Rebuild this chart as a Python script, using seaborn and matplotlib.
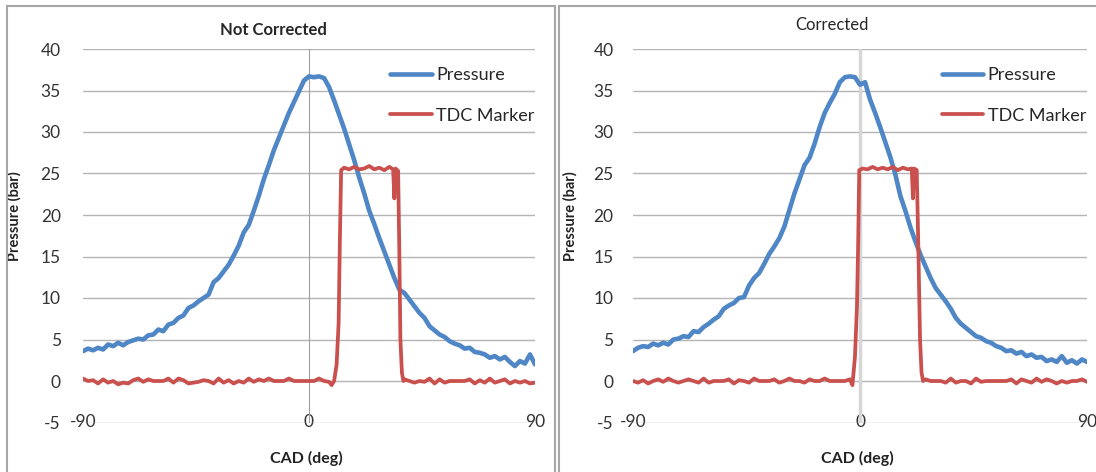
import numpy as np
import seaborn as sns
import matplotlib.pyplot as plt
from matplotlib.patches import Rectangle

# crank angle (deg), pressure sampled every 2 deg
cad = list(range(-90, 91, 2))

# pressure (bar) - not corrected
pressure_nc = [3.6, 3.9, 3.7, 4.0, 3.8, 4.4, 4.2, 4.6, 4.3, 4.7,
               4.9, 5.1, 5.0, 5.5, 5.6, 6.2, 6.0, 6.8, 7.0, 7.6,
               7.9, 8.8, 9.1, 9.6, 10.0, 10.4, 11.9, 12.4, 13.2, 14.0,
               15.1, 16.3, 17.9, 18.8, 20.5, 22.3, 24.3, 26.0, 27.8, 29.3,
               30.8, 32.3, 33.6, 34.9, 36.2, 36.7, 36.6, 36.7, 36.5, 35.4,
               33.8, 32.1, 30.4, 28.5, 26.6, 24.5, 22.6, 20.5, 18.9, 17.2,
               15.6, 14.0, 12.4, 11.0, 10.6, 9.8, 9.0, 8.2, 7.6, 6.6,
               6.1, 5.6, 5.3, 4.8, 4.5, 4.3, 3.9, 4.0, 3.5, 3.4,
               3.2, 2.8, 3.0, 2.6, 2.9, 2.3, 1.8, 2.4, 2.1, 3.2,
               2.0]

# pressure (bar) - corrected
pressure_c = [3.6, 4.0, 4.2, 4.1, 4.5, 4.3, 4.6, 4.4, 5.0, 5.1,
              5.4, 5.3, 6.0, 5.9, 6.5, 6.9, 7.4, 7.8, 8.7, 9.1,
              9.4, 10.0, 10.1, 11.5, 12.4, 13.0, 14.1, 15.3, 16.2, 17.2,
              18.6, 20.6, 22.6, 24.3, 26.0, 26.9, 28.6, 30.6, 32.3, 33.5,
              34.6, 36.0, 36.6, 36.7, 36.6, 35.7, 36.0, 33.9, 32.3, 30.6,
              28.8, 27.0, 24.9, 22.3, 20.5, 18.5, 16.8, 15.2, 13.8, 12.4,
              11.2, 10.4, 9.6, 8.7, 7.6, 6.9, 6.4, 5.9, 5.4, 5.2,
              4.8, 4.6, 4.2, 4.0, 3.6, 3.7, 3.3, 3.5, 3.0, 3.2,
              2.8, 2.9, 2.4, 2.6, 2.3, 3.0, 2.2, 2.5, 2.1, 2.6,
              2.3]

# TDC marker - not corrected
tdc_nc_x = list(range(-90, 9, 2)) + [9, 10, 11, 11.8, 12.3, 12.8, 14, 16, 18, 20, 22, 24, 26, 28,
                                     30, 32, 33.5, 34, 34.5, 35.5, 36, 36.4, 37, 37.6, 38] \
    + list(range(40, 91, 2))
tdc_nc = [0.3, 0.0, 0.1, -0.3, 0.2, -0.2, 0.0, -0.4, -0.2, -0.3,
          0.1, 0.3, -0.1, 0.2, 0.0, 0.0, 0.0, 0.3, -0.2, 0.3,
          0.1, -0.3, -0.2, -0.1, 0.1, 0.0, -0.3, 0.3, -0.2, 0.1,
          -0.3, 0.0, -0.2, 0.3, -0.1, 0.2, 0.0, 0.3, 0.0, 0.0,
          0.0, 0.3, 0.0, 0.0, 0.0, 0.0, 0.0, 0.3, 0.0, -0.1,
          -0.5, 0.0, 2.0, 7.0, 17.0, 25.4, 25.7, 25.5, 25.8, 25.5, 25.6, 25.9, 25.5, 25.7,
          25.4, 25.8, 25.5, 22.0, 25.6, 25.3, 15.0, 5.0, 1.0, 0.0, 0.2,
          0.0, -0.2, 0.0, -0.1, 0.3, -0.3, 0.2, -0.2, 0.0, 0.0,
          0.0, 0.0, 0.2, -0.3, 0.1, -0.2, 0.3, -0.2, 0.0, 0.2,
          -0.3, 0.0, -0.2, 0.0, -0.3, -0.2]

# TDC marker - corrected
tdc_c_x = list(range(-90, -3, 2)) + [-3, -2, -1.2, -0.7, -0.3, 1, 3, 5, 7, 9, 11, 13, 15, 17, 19,
                                     20.5, 21, 21.5, 22.5, 23.2, 23.8, 24.4, 25] \
    + list(range(26, 91, 2))
tdc_c = [0.0, -0.2, 0.1, -0.3, 0.0, 0.2, -0.1, 0.3, 0.0, -0.2,
         0.0, 0.2, 0.0, -0.2, 0.3, -0.2, 0.0, 0.0, 0.0, 0.2,
         -0.3, 0.1, 0.0, -0.2, 0.3, 0.0, 0.0, 0.0, 0.2, -0.2,
         0.0, 0.3, 0.0, 0.0, -0.2, 0.2, 0.0, 0.0, 0.3, 0.0,
         0.0, 0.0, 0.0, 0.2,
         -0.5, 2.9, 9.0, 17.0, 25.4, 25.6, 25.5, 25.8, 25.5, 25.7, 25.5, 25.8, 25.4, 25.7, 25.5,
         25.6, 22.0, 25.6, 25.4, 15.0, 5.0, 1.0, 0.0,
         0.2, 0.0, 0.0, 0.0, -0.2, 0.3, -0.2, 0.0, 0.0, -0.3,
         0.3, -0.1, 0.0, 0.0, 0.0, 0.0, 0.0, 0.2, -0.3, 0.2,
         0.0, -0.2, 0.3, -0.1, 0.2, 0.0, -0.3, 0.0, -0.2, 0.0,
         0.0, 0.2, -0.1]

sns.set_theme(style='white')
plt.rcParams['font.family'] = ['Lato', 'DejaVu Sans']
plt.rcParams['axes.unicode_minus'] = False

blue = '#4F86C6'
red = '#C9504D'

W, H = 1096, 472
fig = plt.figure(figsize=(W / 100, H / 100), dpi=100)

# panel frames (excel chart borders)
fig.patches.append(Rectangle((7 / W, -0.1), (555 - 7) / W, 1.1 - 6 / H, transform=fig.transFigure,
                             fill=False, edgecolor='#a6a6a6', lw=1.5))
fig.patches.append(Rectangle((559 / W, -0.1), 0.6, 1.1 - 6 / H, transform=fig.transFigure,
                             fill=False, edgecolor='#a6a6a6', lw=1.5))

ax1 = fig.add_axes([83 / W, (H - 422.5) / H, 452 / W, 373.5 / H])
ax2 = fig.add_axes([633 / W, (H - 422.5) / H, 454 / W, 373.5 / H])

panels = [(ax1, pressure_nc, tdc_nc_x, tdc_nc, '#a0a0a0', 0.8, 16, -0.135),
          (ax2, pressure_c, tdc_c_x, tdc_c, '#d6d6d6', 2.5, 14, -0.123)]

for ax, pres, mx, my, zc, zw, ypad, ylx in panels:
    ax.axvline(0, color=zc, lw=zw, zorder=1)
    sns.lineplot(x=cad, y=pres, ax=ax, color=blue, lw=3.3, label='Pressure', estimator=None, zorder=3)
    sns.lineplot(x=mx, y=my, ax=ax, color=red, lw=2.7, label='TDC Marker', estimator=None, zorder=4)
    ax.set_xlim(-90, 90)
    ax.set_ylim(-5, 40)
    ax.set_yticks(range(-5, 41, 5))
    ax.set_xticks([-90, 0, 90])
    ax.grid(axis='y', color='#b4b4b4', lw=1)
    ax.grid(axis='x', visible=False)
    for s in ax.spines.values():
        s.set_visible(False)
    ax.tick_params(axis='y', length=0, pad=ypad, labelsize=12.5, labelcolor='#333333')
    ax.tick_params(axis='x', length=0, pad=-6, labelsize=12.5, labelcolor='#333333')
    ax.set_ylabel('Pressure (bar)', fontsize=10.5, fontweight='bold', color='#222222')
    ax.yaxis.set_label_coords(ylx, 0.553)
    ax.set_xlabel('CAD (deg)', fontsize=11.5, fontweight='bold', color='#222222', va='center')
    ax.xaxis.set_label_coords(0.495, -0.095)
    ax.legend(loc='upper left', bbox_to_anchor=(0.66, 0.975), frameon=False, borderpad=0,
              fontsize=13, handlelength=2.3, handletextpad=0.25, labelspacing=1.35)
    ax.set_facecolor('none')

fig.text(273 / W, 1 - 30 / H, 'Not Corrected', ha='center', va='center', fontsize=12, fontweight='bold')
fig.text(832 / W, 1 - 25 / H, 'Corrected', ha='center', va='center', fontsize=12)

fig.savefig('out.png', dpi=100, facecolor='white')
